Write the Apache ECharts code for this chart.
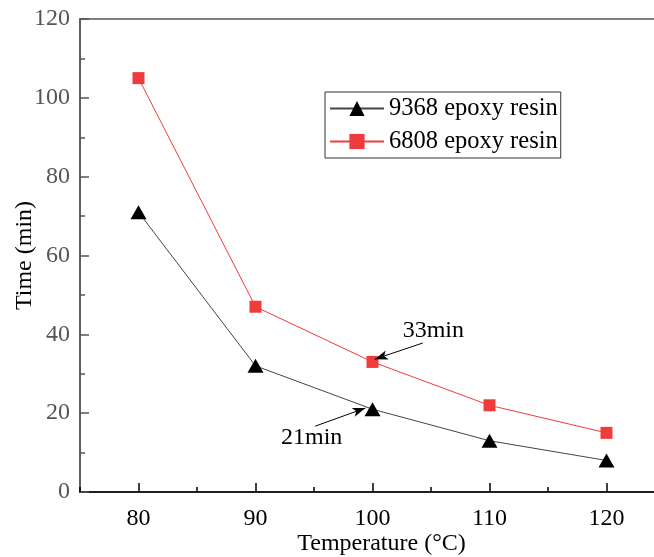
<!DOCTYPE html>
<html>
<head>
<meta charset="utf-8">
<script src="https://cdn.jsdelivr.net/npm/echarts@6/dist/echarts.min.js"></script>
<style>
  html, body { margin: 0; padding: 0; background: #fff; }
  #chart { width: 654px; height: 557px; }
</style>
</head>
<body>
<div id="chart"></div>
<script>
// Curing time vs. temperature for two epoxy systems
const temperatures = [80, 90, 100, 110, 120];
const resin9368 = [71, 32, 21, 13, 8];
const resin6808 = [105, 47, 33, 22, 15];
const xTickLabels = [80, 90, 100, 110, 120];
const yTickLabels = [0, 20, 40, 60, 80, 100, 120];
const seriesNames = ['9368 epoxy resin', '6808 epoxy resin'];

// Callouts: text, text position, arrow start, arrow tip
const callout33 = { text: '33min', at: [105.2, 40.9], from: [104.3, 37.8], to: [100.2, 33.7] };
const callout21 = { text: '21min', at: [94.8, 13.9], from: [95.1, 16.7], to: [99.4, 21.3] };

const FONT = "'Liberation Serif', 'Times New Roman', serif";

function pairs(xs, ys) { return xs.map((x, i) => [x, ys[i]]); }

function calloutMarks(c) {
  return {
    markLine: {
      silent: true,
      symbol: ['none', 'arrow'],
      symbolSize: [7, 13],
      lineStyle: { color: '#000', width: 1, type: 'solid' },
      label: { show: false },
      data: [[{ coord: c.from }, { coord: c.to }]]
    },
    markPoint: {
      silent: true,
      symbol: 'circle',
      symbolSize: 0,
      label: {
        show: true, position: 'inside', formatter: c.text,
        color: '#000', fontFamily: FONT, fontSize: 24
      },
      data: [{ coord: c.at }]
    }
  };
}

const chart = echarts.init(document.getElementById('chart'), null, { renderer: 'canvas' });

chart.setOption({
  animation: false,
  backgroundColor: '#fff',
  grid: {
    left: 80, top: 19, width: 585, height: 473,
    outerBoundsMode: 'none', containLabel: false,
    show: true, borderColor: '#555', borderWidth: 1.5, backgroundColor: 'transparent'
  },
  legend: {
    orient: 'vertical',
    left: 325, top: 92,
    padding: [4, 3, 4, 4],
    itemGap: 8,
    itemWidth: 54, itemHeight: 19,
    borderColor: '#333', borderWidth: 1,
    textStyle: { fontFamily: FONT, fontSize: 24.5, color: '#000' },
    data: seriesNames
  },
  xAxis: [{
    type: 'value', min: 75, max: 125,
    name: 'Temperature (\u00B0C)', nameLocation: 'middle', nameGap: 40, nameMoveOverlap: false,
    nameTextStyle: { fontFamily: FONT, fontSize: 24, color: '#000', padding: [0, 0, 0, 18] },
    axisLine: { show: true, lineStyle: { color: '#000', width: 1.5 } },
    axisTick: { show: true, inside: true, length: 9, customValues: xTickLabels, lineStyle: { color: '#000', width: 1.5 } },
    axisLabel: { customValues: xTickLabels, margin: 15, fontFamily: FONT, fontSize: 24, color: '#000' },
    splitLine: { show: false }
  }, {
    // minor ticks along the bottom axis
    type: 'value', min: 75, max: 125, interval: 5, position: 'bottom',
    axisLine: { show: false },
    axisTick: { show: true, inside: true, length: 5, lineStyle: { color: '#000', width: 1.5 } },
    axisLabel: { show: false },
    splitLine: { show: false }
  }],
  yAxis: {
    type: 'value', min: 0, max: 120, interval: 20,
    name: 'Time (min)', nameLocation: 'middle', nameGap: 43, nameRotate: 90, nameMoveOverlap: false,
    nameTextStyle: { fontFamily: FONT, fontSize: 24, color: '#000' },
    axisLine: { show: true, lineStyle: { color: '#555', width: 1.5 } },
    axisTick: { show: true, inside: true, length: 9, lineStyle: { color: '#555', width: 1.5 } },
    minorTick: { show: true, splitNumber: 2, length: 5, lineStyle: { color: '#555', width: 1.5 } },
    axisLabel: {
      margin: 10, fontFamily: FONT, fontSize: 24, color: '#555',
      formatter: v => (yTickLabels.includes(v) ? String(v) : '')
    },
    splitLine: { show: false }
  },
  series: [
    Object.assign({
      name: seriesNames[0], type: 'line', xAxisIndex: 0,
      data: pairs(temperatures, resin9368),
      symbol: 'triangle', symbolSize: [16, 14],
      itemStyle: { color: '#000' },
      lineStyle: { color: '#444', width: 1 }
    }, calloutMarks(callout21)),
    Object.assign({
      name: seriesNames[1], type: 'line', xAxisIndex: 0,
      data: pairs(temperatures, resin6808),
      symbol: 'rect', symbolSize: 12,
      itemStyle: { color: '#ee3b3b' },
      lineStyle: { color: '#f03c3c', width: 1 }
    }, calloutMarks(callout33))
  ]
});
</script>
</body>
</html>
